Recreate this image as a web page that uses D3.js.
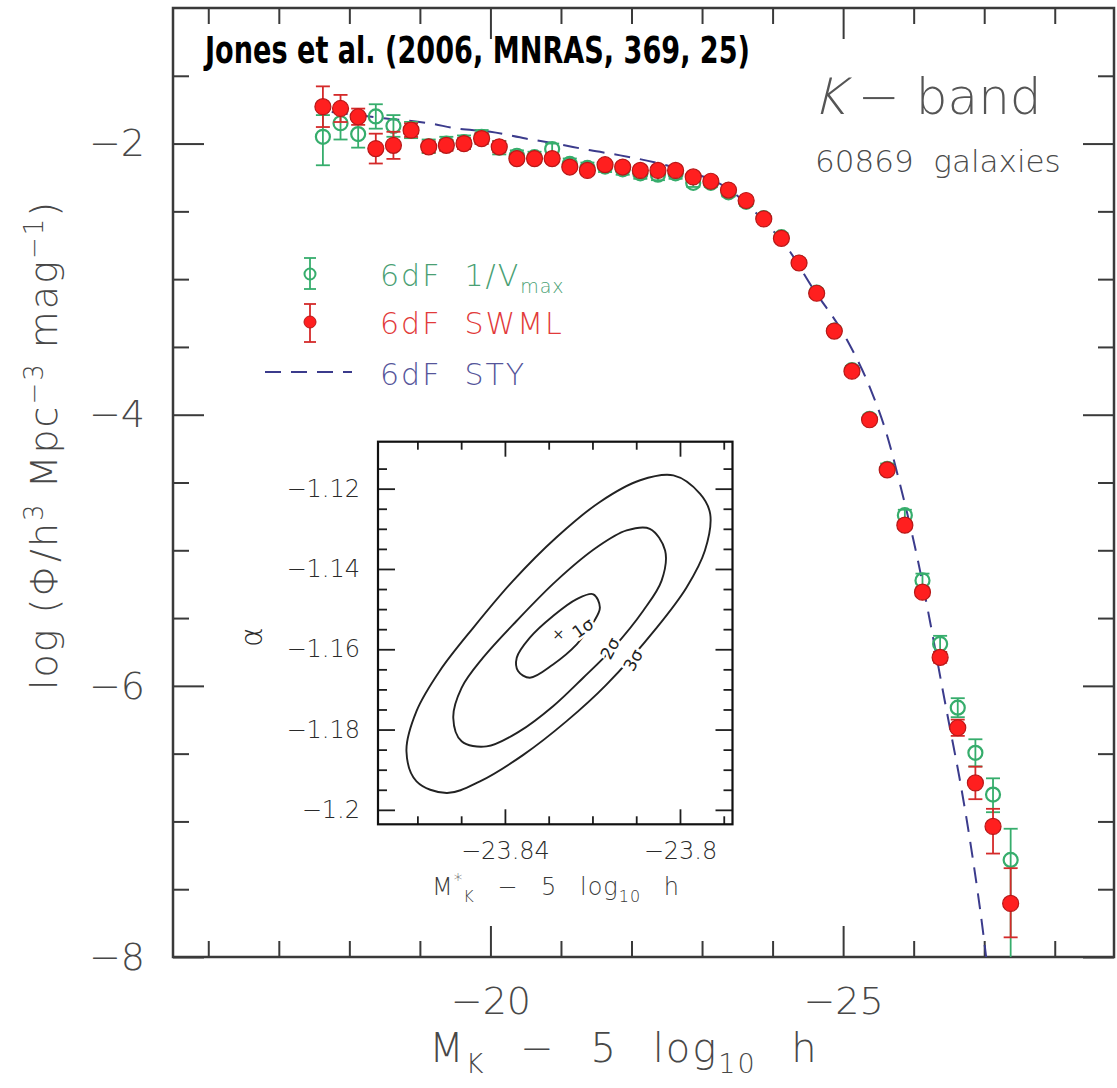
<!DOCTYPE html>
<html><head><meta charset="utf-8">
<script src="https://cdn.jsdelivr.net/npm/d3@7/dist/d3.min.js"></script>
<style>html,body{margin:0;padding:0;background:#fff;}svg{display:block;}</style>
</head><body>
<svg id="chart" width="1117" height="1088"></svg>
<script>
// ---------------- data ----------------
const magBins = [-17.625,-17.875,-18.125,-18.375,-18.625,-18.875,-19.125,-19.375,-19.625,-19.875,
  -20.125,-20.375,-20.625,-20.875,-21.125,-21.375,-21.625,-21.875,-22.125,-22.375,
  -22.625,-22.875,-23.125,-23.375,-23.625,-23.875,-24.125,-24.375,-24.625,-24.875,
  -25.125,-25.375,-25.625,-25.875,-26.125,-26.375,-26.625,-26.875,-27.125,-27.375];
const swmlLogPhi = [-1.728,-1.741,-1.802,-2.037,-2.013,-1.901,-2.024,-2.013,-2.000,-1.963,
  -2.024,-2.111,-2.111,-2.111,-2.173,-2.198,-2.156,-2.173,-2.198,-2.198,
  -2.198,-2.246,-2.278,-2.343,-2.420,-2.556,-2.699,-2.881,-3.104,-3.383,
  -3.679,-4.037,-4.407,-4.815,-5.309,-5.790,-6.309,-6.716,-7.037,-7.605];
const swmlErrHi = [0.15,0.10,0.06,0.11,0.10,0.05,0.04,0.04,0.04,0.04,0.04,0.03,0.03,0.03,0.03,0.03,0.03,0.03,0.03,0.03,
  0.03,0.03,0.03,0.02,0.02,0.02,0.02,0.02,0.02,0.02,0.02,0.02,0.02,0.03,0.03,0.04,0.06,0.12,0.13,0.26];
const swmlErrLo = [0.15,0.10,0.06,0.11,0.10,0.05,0.04,0.04,0.04,0.04,0.04,0.03,0.03,0.03,0.03,0.03,0.03,0.03,0.03,0.03,
  0.03,0.03,0.03,0.02,0.02,0.02,0.02,0.02,0.02,0.02,0.02,0.02,0.02,0.03,0.03,0.04,0.06,0.12,0.20,0.25];
const vmaxLogPhi = [-1.950,-1.850,-1.930,-1.800,-1.870,-1.900,-2.020,-2.000,-1.990,-1.950,
  -2.030,-2.090,-2.100,-2.040,-2.150,-2.180,-2.170,-2.190,-2.220,-2.230,
  -2.220,-2.290,-2.290,-2.360,-2.430,-2.550,-2.690,-2.880,-3.100,-3.380,
  -3.670,-4.030,-4.400,-4.741,-5.222,-5.691,-6.161,-6.494,-6.802,-7.284];
const vmaxErrHi = [0.16,0.12,0.10,0.09,0.08,0.06,0.05,0.05,0.05,0.05,0.05,0.04,0.04,0.04,0.04,0.04,0.04,0.04,0.04,0.04,
  0.04,0.03,0.03,0.03,0.03,0.03,0.03,0.03,0.03,0.03,0.03,0.03,0.04,0.04,0.05,0.06,0.07,0.10,0.12,0.23];
const vmaxErrLo = [0.21,0.12,0.10,0.09,0.08,0.06,0.05,0.05,0.05,0.05,0.05,0.04,0.04,0.04,0.04,0.04,0.04,0.04,0.04,0.04,
  0.04,0.03,0.03,0.03,0.03,0.03,0.03,0.03,0.03,0.03,0.03,0.03,0.04,0.04,0.05,0.06,0.07,0.10,0.13,0.95];
// STY Schechter fit
const styMag = [-17.75,-18.52,-19.15,-19.52,-20.00,-20.50,-20.92,-21.42,-21.84,-22.34,-22.83,-23.33,-23.82,
  -24.25,-24.55,-25.05,-25.38,-25.61,-25.80,-26.06,-26.23,-26.39,-26.51,-26.65,-26.84,-26.98,-27.05];
const styLogPhi = [-1.767,-1.815,-1.852,-1.889,-1.913,-1.963,-2.000,-2.050,-2.087,-2.140,-2.210,-2.320,-2.540,
  -2.800,-3.050,-3.444,-3.800,-4.130,-4.500,-5.075,-5.520,-5.970,-6.300,-6.680,-7.280,-7.800,-8.100];
// main axis ticks
const xMajor = [-20,-25];
const xMinor = [-16,-17,-18,-19,-21,-22,-23,-24,-26,-27,-28];
const yMajor = [-2,-4,-6,-8];
const yMinor = [-1.5,-2.5,-3,-3.5,-4.5,-5,-5.5,-6.5,-7,-7.5];
// inset: confidence contours in (M*, alpha)
const contour3 = [[-23.8015,-1.1167],[-23.7954,-1.1213],[-23.7931,-1.1263],[-23.7943,-1.1354],[-23.7985,-1.1446],
  [-23.8053,-1.1546],[-23.8168,-1.1688],[-23.8259,-1.1779],[-23.8358,-1.1863],[-23.8457,-1.1929],[-23.8533,-1.1958],
  [-23.8602,-1.1929],[-23.8625,-1.1854],[-23.8602,-1.1754],[-23.8549,-1.1654],[-23.8472,-1.1546],[-23.8381,-1.1429],
  [-23.8282,-1.1321],[-23.8183,-1.1233],[-23.8091,-1.1179]];
const contour2 = [[-23.8069,-1.1300],[-23.8034,-1.1354],[-23.8042,-1.1429],[-23.8084,-1.1504],[-23.8152,-1.1596],
  [-23.8221,-1.1671],[-23.8290,-1.1742],[-23.8366,-1.1804],[-23.8442,-1.1842],[-23.8499,-1.1829],[-23.8518,-1.1771],
  [-23.8499,-1.1696],[-23.8450,-1.1621],[-23.8373,-1.1529],[-23.8282,-1.1429],[-23.8190,-1.1346],[-23.8122,-1.1304]];
const contour1 = [[-23.8198,-1.1463],[-23.8183,-1.1496],[-23.8198,-1.1533],[-23.8236,-1.1588],[-23.8290,-1.1638],
  [-23.8343,-1.1671],[-23.8370,-1.1654],[-23.8373,-1.1621],[-23.8343,-1.1571],[-23.8290,-1.1517],[-23.8236,-1.1475]];
const bestFit = [-23.8278,-1.1563];
const sigmaLabels = ["1σ","2σ","3σ"];
const sigmaLabelPos = [[-23.8222,-1.1547],[-23.8160,-1.1598],[-23.8107,-1.1627]];
const insetXMajor = [-23.84,-23.80];
const insetXMinor = [-23.86,-23.85,-23.83,-23.82,-23.81,-23.79];
const insetYMajor = [-1.12,-1.14,-1.16,-1.18,-1.2];
const insetYMinor = [-1.115,-1.125,-1.13,-1.135,-1.145,-1.15,-1.155,-1.165,-1.17,-1.175,-1.185,-1.19,-1.195];
const legendLabels = ["6dF  1/V","6dF  SWML","6dF  STY"];

// ---------------- drawing ----------------
const svg = d3.select("#chart");
const FONT = "'DejaVu Sans','Liberation Sans',sans-serif";
const GREEN = "#36ad6c", RED = "#ff1f1f", REDEDGE = "#b81818", REDBAR = "#d42a2a", BLUE = "#3b3b8c";
svg.append("rect").attr("width",1117).attr("height",1088).attr("fill","#fff");

const x = d3.scaleLinear().domain([-15.5, -28.84]).range([173, 1114]);
const y = d3.scaleLinear().domain([-8, -1]).range([957, 8]);
const fmt = v => "\u2212" + Math.abs(v);

function mkAxis(gen, tr, vals, len, pad, labels, size, color, sw) {
  const g = svg.append("g").attr("transform", tr);
  g.call(gen.tickValues(vals).tickSizeInner(len).tickSizeOuter(0).tickPadding(pad)
    .tickFormat(labels ? fmt : () => ""));
  g.select(".domain").remove();
  g.selectAll(".tick line").attr("stroke", color || "#3a3a3a").attr("stroke-width", sw || 2);
  g.attr("font-family", FONT).attr("font-size", size || 38);
  g.selectAll(".tick text").attr("fill", "#484848").style("font-weight", 300);
  return g;
}
// main axes ticks
mkAxis(d3.axisBottom(x), "translate(0,957)", xMajor, -31, 30, true, 38);
mkAxis(d3.axisBottom(x), "translate(0,957)", xMinor, -16, 0, false);
mkAxis(d3.axisTop(x), "translate(0,8)", xMajor, -31, 0, false);
mkAxis(d3.axisTop(x), "translate(0,8)", xMinor, -16, 0, false);
mkAxis(d3.axisLeft(y), "translate(173,0)", yMajor, -31, 28, true, 38);
mkAxis(d3.axisLeft(y), "translate(173,0)", yMinor, -16, 0, false);
mkAxis(d3.axisRight(y), "translate(1114,0)", yMajor, -31, 0, false);
mkAxis(d3.axisRight(y), "translate(1114,0)", yMinor, -16, 0, false);
svg.append("rect").attr("x",173).attr("y",8).attr("width",941).attr("height",949)
  .attr("fill","none").attr("stroke","#3a3a3a").attr("stroke-width",2.5);

// axis titles
const xt = svg.append("text").attr("x",624).attr("y",1062).attr("text-anchor","middle")
  .attr("font-family",FONT).attr("font-size",40).attr("fill","#484848")
  .style("font-weight",300).style("letter-spacing","2px").style("word-spacing","20px");
xt.append("tspan").text("M");
xt.append("tspan").attr("font-size",27).attr("dy",11).text("K");
xt.append("tspan").attr("dy",-11).text(" \u2212 5 log");
xt.append("tspan").attr("font-size",27).attr("dy",11).text("10");
xt.append("tspan").attr("dy",-11).text(" h");

const yt = svg.append("text").attr("transform","translate(57,445) rotate(-90)").attr("text-anchor","middle")
  .attr("font-family",FONT).attr("font-size",38).attr("fill","#484848")
  .style("font-weight",300).style("letter-spacing","2px");
yt.append("tspan").text("log (\u03A6/h");
yt.append("tspan").attr("font-size",26).attr("dy",-14).text("3");
yt.append("tspan").attr("dy",14).text(" Mpc");
yt.append("tspan").attr("font-size",26).attr("dy",-14).text("\u22123");
yt.append("tspan").attr("dy",14).text(" mag");
yt.append("tspan").attr("font-size",26).attr("dy",-14).text("\u22121");
yt.append("tspan").attr("dy",14).text(")");

// title / annotations
svg.append("text").attr("x",205).attr("y",63).attr("font-family","'Liberation Sans Narrow','DejaVu Sans Condensed',sans-serif")
  .attr("font-weight","bold").attr("font-size",38).attr("fill","#000")
  .attr("textLength",545).attr("lengthAdjust","spacingAndGlyphs")
  .text("Jones et al. (2006, MNRAS, 369, 25)");
svg.append("text").attr("transform","translate(812,114) skewX(-14)").attr("font-family",FONT).attr("font-size",50)
  .attr("fill","#555").style("font-weight",300).text("K");
svg.append("text").attr("x",858).attr("y",114).attr("font-family",FONT).attr("font-size",50)
  .attr("fill","#555").style("font-weight",300).attr("xml:space","preserve").text("\u2212 band");
svg.append("text").attr("x",815).attr("y",172).attr("font-family",FONT).attr("font-size",31)
  .attr("fill","#4a4a4a").style("font-weight",300).attr("xml:space","preserve").text("60869  galaxies");

// clip for data
svg.append("clipPath").attr("id","plotclip").append("rect").attr("x",173).attr("y",8).attr("width",941).attr("height",949);
const plot = svg.append("g").attr("clip-path","url(#plotclip)");

// STY dashed curve
const styPts = styMag.map((m,i)=>[m, styLogPhi[i]]);
plot.append("path").datum(styPts)
  .attr("d", d3.line().x(d=>x(d[0])).y(d=>y(d[1])).curve(d3.curveMonotoneX))
  .attr("fill","none").attr("stroke",BLUE).attr("stroke-width",2).attr("stroke-dasharray","16,10");

function errorBars(g, vals, lo, hi, color, cap) {
  const d = magBins.map((m,i)=>({m, v:vals[i], lo:lo[i], hi:hi[i]}));
  g.selectAll(null).data(d).join("line")
    .attr("x1",e=>x(e.m)).attr("x2",e=>x(e.m)).attr("y1",e=>y(e.v-e.lo)).attr("y2",e=>y(e.v+e.hi))
    .attr("stroke",color).attr("stroke-width",1.8);
  g.selectAll(null).data(d).join("line")
    .attr("x1",e=>x(e.m)-cap).attr("x2",e=>x(e.m)+cap).attr("y1",e=>y(e.v+e.hi)).attr("y2",e=>y(e.v+e.hi))
    .attr("stroke",color).attr("stroke-width",1.8);
  g.selectAll(null).data(d).join("line")
    .attr("x1",e=>x(e.m)-cap).attr("x2",e=>x(e.m)+cap).attr("y1",e=>y(e.v-e.lo)).attr("y2",e=>y(e.v-e.lo))
    .attr("stroke",color).attr("stroke-width",1.8);
}
// 1/Vmax (green open circles)
const gG = plot.append("g");
errorBars(gG, vmaxLogPhi, vmaxErrLo, vmaxErrHi, GREEN, 7);
gG.selectAll("circle").data(magBins).join("circle")
  .attr("cx",m=>x(m)).attr("cy",(m,i)=>y(vmaxLogPhi[i])).attr("r",7)
  .attr("fill","none").attr("stroke",GREEN).attr("stroke-width",2.2);
// SWML (red filled)
const gR = plot.append("g");
errorBars(gR, swmlLogPhi, swmlErrLo, swmlErrHi, REDBAR, 7);
gR.selectAll("circle").data(magBins).join("circle")
  .attr("cx",m=>x(m)).attr("cy",(m,i)=>y(swmlLogPhi[i])).attr("r",8)
  .attr("fill",RED).attr("stroke",REDEDGE).attr("stroke-width",1.2);

// legend
const lg = svg.append("g");
lg.append("line").attr("x1",310).attr("x2",310).attr("y1",258).attr("y2",289).attr("stroke",GREEN).attr("stroke-width",1.8);
lg.append("line").attr("x1",304).attr("x2",316).attr("y1",258).attr("y2",258).attr("stroke",GREEN).attr("stroke-width",1.8);
lg.append("line").attr("x1",304).attr("x2",316).attr("y1",289).attr("y2",289).attr("stroke",GREEN).attr("stroke-width",1.8);
lg.append("circle").attr("cx",310).attr("cy",274).attr("r",5.5).attr("fill","none").attr("stroke",GREEN).attr("stroke-width",2);
lg.append("line").attr("x1",310).attr("x2",310).attr("y1",304).attr("y2",342).attr("stroke",REDBAR).attr("stroke-width",1.8);
lg.append("line").attr("x1",304).attr("x2",316).attr("y1",304).attr("y2",304).attr("stroke",REDBAR).attr("stroke-width",1.8);
lg.append("line").attr("x1",304).attr("x2",316).attr("y1",342).attr("y2",342).attr("stroke",REDBAR).attr("stroke-width",1.8);
lg.append("circle").attr("cx",310).attr("cy",322).attr("r",6).attr("fill",RED).attr("stroke",REDEDGE).attr("stroke-width",1);
lg.append("line").attr("x1",265).attr("x2",352).attr("y1",372).attr("y2",372).attr("stroke",BLUE).attr("stroke-width",2).attr("stroke-dasharray","16,10");
const legColors = ["#4a9f74","#e23a3a","#55559a"];
const legY = [286,334,385];
legendLabels.forEach((t,i)=>{
  const tx = lg.append("text").attr("x",380).attr("y",legY[i]).attr("font-family",FONT).attr("font-size",30)
    .attr("fill",legColors[i]).style("font-weight",300).style("letter-spacing","2px").attr("xml:space","preserve");
  tx.append("tspan").text(t);
  if (i===0) tx.append("tspan").attr("font-size",19).attr("dy",7).style("letter-spacing","1px").text("max");
});

// ---------------- inset ----------------
const ix = d3.scaleLinear().domain([-23.869, -23.788]).range([378, 732.5]);
const iy = d3.scaleLinear().domain([-1.2036, -1.1083]).range([824.3, 441.7]);
const fmtI = v => "\u2212" + Math.abs(v);
svg.append("rect").attr("x",378).attr("y",441.7).attr("width",354.5).attr("height",382.6).attr("fill","#fff");
function mkIAxis(gen, tr, vals, len, pad, labels) {
  const g = svg.append("g").attr("transform", tr);
  g.call(gen.tickValues(vals).tickSizeInner(len).tickSizeOuter(0).tickPadding(pad)
    .tickFormat(labels ? fmtI : () => ""));
  g.select(".domain").remove();
  g.selectAll(".tick line").attr("stroke","#1e1e1e").attr("stroke-width",1.8);
  g.attr("font-family", FONT).attr("font-size", 24);
  g.selectAll(".tick text").attr("fill","#2a2a2a").style("font-weight",300);
}
mkIAxis(d3.axisBottom(ix), "translate(0,824.3)", insetXMajor, -15, 18, true);
mkIAxis(d3.axisBottom(ix), "translate(0,824.3)", insetXMinor, -8, 0, false);
mkIAxis(d3.axisTop(ix), "translate(0,441.7)", insetXMajor, -15, 0, false);
mkIAxis(d3.axisTop(ix), "translate(0,441.7)", insetXMinor, -8, 0, false);
mkIAxis(d3.axisLeft(iy), "translate(378,0)", insetYMajor, -17, 18, true);
mkIAxis(d3.axisLeft(iy), "translate(378,0)", insetYMinor, -9, 0, false);
mkIAxis(d3.axisRight(iy), "translate(732.5,0)", insetYMajor, -17, 0, false);
mkIAxis(d3.axisRight(iy), "translate(732.5,0)", insetYMinor, -9, 0, false);
svg.append("rect").attr("x",378).attr("y",441.7).attr("width",354.5).attr("height",382.6)
  .attr("fill","none").attr("stroke","#111").attr("stroke-width",2.2);

const cLine = d3.line().x(d=>ix(d[0])).y(d=>iy(d[1])).curve(d3.curveCatmullRomClosed.alpha(0.5));
[contour3, contour2, contour1].forEach(c=>{
  svg.append("path").datum(c).attr("d",cLine).attr("fill","none").attr("stroke","#222").attr("stroke-width",1.9);
});
svg.append("text").attr("x",ix(bestFit[0])).attr("y",iy(bestFit[1])).attr("dy","0.35em").attr("text-anchor","middle")
  .attr("font-family",FONT).attr("font-size",14).attr("fill","#222").text("\u00D7");
const rot = [-35,-62,-62];
sigmaLabels.forEach((t,i)=>{
  const px = ix(sigmaLabelPos[i][0]), py = iy(sigmaLabelPos[i][1]);
  svg.append("text").attr("transform",`translate(${px},${py}) rotate(${rot[i]})`).attr("text-anchor","middle")
    .attr("dy","0.35em").attr("font-family",FONT).attr("font-size",17).attr("fill","#222")
    .attr("stroke","#fff").attr("stroke-width",5).attr("paint-order","stroke").text(t);
});
svg.append("text").attr("transform","translate(262,637) rotate(-90)").attr("text-anchor","middle")
  .attr("font-family",FONT).attr("font-size",30).attr("fill","#2a2a2a").style("font-weight",300).text("\u03B1");
const it = svg.append("text").attr("x",556).attr("y",895).attr("text-anchor","middle")
  .attr("font-family",FONT).attr("font-size",24).attr("fill","#3a3a3a").style("font-weight",300)
  .style("letter-spacing","1px").style("word-spacing","14px");
it.append("tspan").text("M");
it.append("tspan").attr("font-size",17).attr("dy",-9).text("*");
it.append("tspan").attr("font-size",16).attr("dy",16).text("K");
it.append("tspan").attr("dy",-7).text(" \u2212 5 log");
it.append("tspan").attr("font-size",16).attr("dy",7).text("10");
it.append("tspan").attr("dy",-7).text(" h");
</script>
</body></html>
